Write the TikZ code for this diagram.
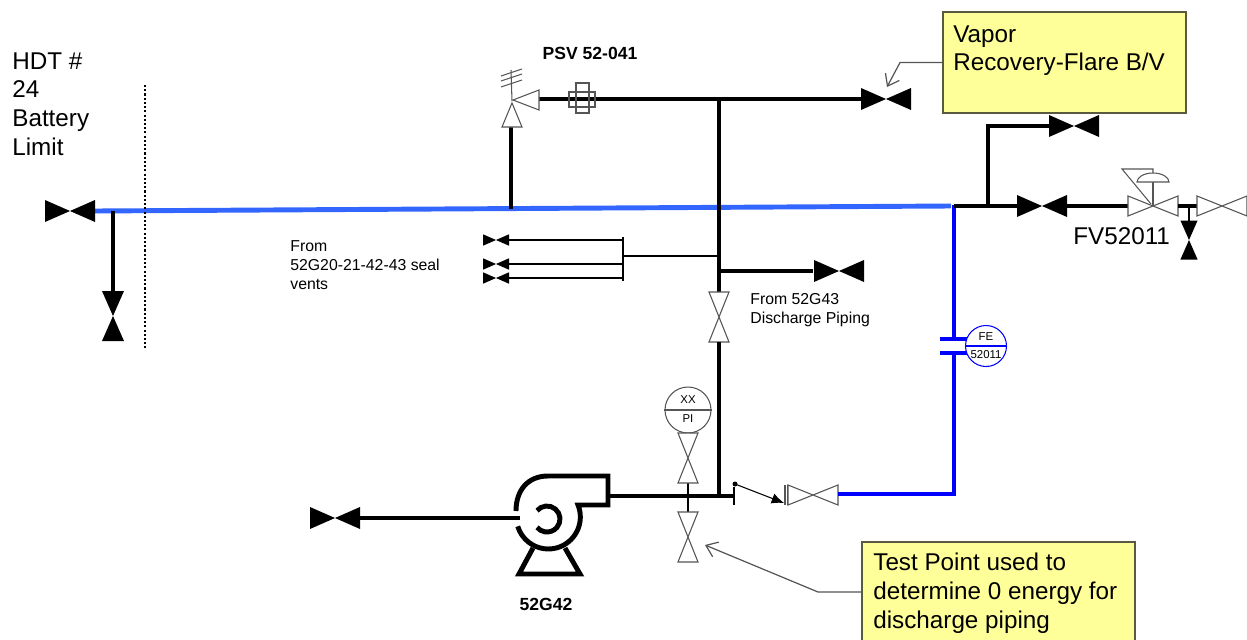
\documentclass[tikz,border=0pt]{standalone}
\usepackage{fontspec}
\setmainfont{Liberation Sans}
\usetikzlibrary{arrows.meta}

\definecolor{flowblue}{HTML}{3366FF}
\definecolor{feblue}{HTML}{0000FF}
\definecolor{notefill}{HTML}{FFFF99}
\definecolor{noteedge}{HTML}{5A5A40}
\definecolor{symgray}{HTML}{555555}

\newcommand{\bigtext}{\fontsize{13.8}{16.4}\selectfont}
\newcommand{\midtext}{\fontsize{9}{11}\selectfont}
\newcommand{\tinytext}{\fontsize{6.5}{7}\selectfont}
\newcommand{\tagtext}{\bfseries\fontsize{10}{12}\selectfont}

\tikzset{
  pipe/.style={line width=2.8pt},
  flow/.style={line width=2.8pt,draw=flowblue},
  fe/.style={line width=2.4pt,draw=feblue},
  tube/.style={line width=0.6pt},
  symbol/.style={draw=symgray,line width=0.6pt},
  bubble/.style={circle,draw=#1,fill=white,line width=0.6pt,inner sep=0pt},
  callout/.style={draw=symgray,line width=0.7pt,-{Straight Barb[length=6pt,width=9pt]}},
  notebox/.style={draw=noteedge,fill=notefill,line width=0.8pt,inner sep=0pt},
  txt/.style={inner sep=0pt,align=left,anchor=north west},
  pics/valve/.style={code={\fill (-25,-11) -- (-25,11) -- (25,-11) -- (25,11) -- cycle;}},
  pics/openvalve/.style={code={\draw[symbol,fill=white] (-25,-10) -- (-25,10) -- (25,-10) -- (25,10) -- cycle;}},
}

\begin{document}
\begin{tikzpicture}[x=0.02cm,y=-0.02cm]
  \useasboundingbox (0,0) rectangle (1247,639);

  % battery limit and main flow line
  \coordinate (bl) at (95,211);
  \coordinate (blEnd) at (951,206);
  \coordinate (drainTop) at (113,211);
  \coordinate (drainBot) at (113,292);
  \draw[flow] (bl) -- (blEnd);
  \pic at (70,211) {valve};
  \draw[pipe] (drainTop) -- (drainBot);
  \pic[rotate=90] at (113,316) {valve};
  \draw[tube,dash pattern=on 1.2pt off 1.2pt] (145,85) -- (145,348);

  % PSV
  \coordinate (psvBase) at (511,208.6);
  \coordinate (psvIn) at (511,127);
  \coordinate (psvOut) at (539,99);
  \coordinate (hdrTee) at (719,99);
  \coordinate (hdrEnd) at (861,99);
  \draw[pipe] (psvBase) -- (psvIn);
  \draw[pipe] (psvOut) -- (hdrEnd);
  \draw[symbol,fill=white] (502,127) -- (522,127) -- (512,103) -- cycle;
  \draw[symbol,fill=white] (539,90) -- (539,110) -- (513,100) -- cycle;
  \draw[symbol] (512,101) -- (511,70);
  \draw[symbol] (501,76) -- (522,69) (501,81) -- (522,74) (501,87) -- (522,80);
  \draw[symbol] (569,92) rectangle (595,107) (576,83) rectangle (589,113);
  \pic at (886,99) {valve};

  % riser to pump discharge
  \coordinate (riserTop) at (719,293);
  \coordinate (riserLow) at (719,342);
  \coordinate (riserBot) at (719,497);
  \draw[pipe] (hdrTee) -- (riserTop);
  \pic[rotate=90] at (719,317) {openvalve};
  \draw[pipe] (riserLow) -- (riserBot);
  \coordinate (branchTee) at (719,271);
  \coordinate (branchEnd) at (813,271);
  \draw[pipe] (branchTee) -- (branchEnd);
  \pic at (839,271) {valve};

  % seal vents
  \coordinate (sealBus) at (623,256);
  \coordinate (sealTee) at (719,256);
  \foreach \y [count=\i] in {240,264,278} {
    \coordinate (seal\i) at (509,\y);
    \coordinate (sealBus\i) at (623,\y);
    \pic[scale=0.52] at (496,\y) {valve};
    \draw[tube] (seal\i) -- (sealBus\i);
  }
  \draw[tube] (623,237) -- (623,281);
  \draw[tube] (sealBus) -- (sealTee);

  % pump 52G42
  \coordinate (pumpC) at (548,518);
  \coordinate (suctionIn) at (360,518);
  \coordinate (pumpIn) at (520,518);
  \coordinate (pumpOut) at (608,496);
  \coordinate (flangeL) at (734,496);
  \pic at (335,518) {valve};
  \draw[pipe] (suctionIn) -- (pumpIn);
  \draw[pipe] (516,511) .. controls (516,490) and (528,476) .. (548,476) -- (608,476) -- (608,505) -- (578,505)
    arc[start angle=-22,end angle=163,radius=32];
  \draw[pipe] (547,519) ++(220:13) arc[start angle=220,end angle=500,radius=13];
  \draw[pipe] (533,548) -- (519,574) -- (580,574) -- (565,548);
  \draw[pipe] (pumpOut) -- (flangeL);

  % pressure gauge and test point
  \node[bubble=symgray,minimum size=0.92cm] (piBubble) at (688,410) {};
  \draw[symbol] (piBubble.west) -- (piBubble.east);
  \node[font=\tinytext,inner sep=0pt] (piTop) at (688,400) {XX};
  \node[font=\tinytext,inner sep=0pt] (piBot) at (688,419) {PI};
  \draw[tube] (688,483) -- (688,512);
  \pic[rotate=90] at (688,458) {openvalve};
  \pic[rotate=90] at (688,537) {openvalve};

  % check valve and return
  \coordinate (flapPivot) at (735,484);
  \coordinate (flapEnd) at (784,503);
  \draw[tube] (734,487) -- (734,505);
  \fill (flapPivot) circle[radius=2.5];
  \draw[tube,-{Latex[length=7pt,width=6pt]}] (flapPivot) -- (flapEnd);
  \draw[symbol] (785,485) -- (785,505) (788,485) -- (788,505);
  \pic at (813,495) {openvalve};
  \coordinate (retStart) at (838,494);
  \coordinate (retCorner) at (954,494);
  \coordinate (feLow) at (954,353);
  \coordinate (feHigh) at (954,339);
  \coordinate (retTop) at (954,205);
  \draw[fe] (retStart) -- (retCorner) -- (feLow);
  \draw[fe] (feHigh) -- (retTop);
  \draw[fe] (940,339) -- (967,339) (940,353) -- (967,353);
  \node[bubble=feblue,minimum size=0.82cm] (feBubble) at (986,346) {};
  \draw[feblue,line width=0.6pt] (feBubble.west) -- (feBubble.east);
  \node[font=\tinytext,inner sep=0pt] (feTop) at (986,337) {FE};
  \node[font=\tinytext,inner sep=0pt] (feBot) at (986,355) {52011};

  % FV52011 side
  \coordinate (rStart) at (954,206);
  \coordinate (rTee) at (988,206);
  \coordinate (rUp) at (988,126);
  \coordinate (rUpEnd) at (1049,126);
  \coordinate (rValve) at (1017,206);
  \draw[pipe] (rStart) -- (rValve);
  \draw[pipe] (rTee) -- (rUp) -- (rUpEnd);
  \pic at (1074,126) {valve};
  \pic at (1042,206) {valve};
  \draw[pipe] (1067,206) -- (1128,206);
  \pic at (1153,206) {openvalve};
  \draw[symbol] (1153,206) -- (1153,182);
  \draw[symbol,fill=white] (1137,182) arc[start angle=180,end angle=360,x radius=16,y radius=9] -- cycle;
  \draw[symbol] (1151,204) -- (1122,169) -- (1153,169) -- (1153,173);
  \draw[pipe] (1178,206) -- (1197,206);
  \pic at (1222,206) {openvalve};
  \draw[tube] (1189,206) -- (1189,221);
  \pic[rotate=90,scale=0.78] at (1189,240) {valve};

  % texts
  \node[txt,font=\bigtext] (hdtText) at (12,52) {HDT \#\\24\\Battery\\Limit};
  \node[font=\tagtext,inner sep=0pt] (psvText) at (590,53) {PSV 52-041};
  \node[txt,font=\midtext] (sealText) at (290,240) {From\\52G20-21-42-43 seal\\vents};
  \node[txt,font=\midtext] (dischText) at (750,293) {From 52G43\\Discharge Piping};
  \node[txt,font=\bigtext] (fvText) at (1073,227) {FV52011};
  \node[font=\tagtext,inner sep=0pt] (pumpText) at (546,604) {52G42};

  % callouts
  \node[notebox,minimum width=4.86cm,minimum height=2.02cm] (vaporNote) at (1064.5,62.5) {};
  \node[txt,font=\bigtext] (vaporText) at (953,25) {Vapor\\Recovery-Flare B/V};
  \coordinate (vaporBend) at (900,62.5);
  \coordinate (vaporTip) at (887,87);
  \draw[callout] (vaporNote.west) -- (vaporBend) -- (vaporTip);
  \node[notebox,minimum width=5.46cm,minimum height=2cm] (testNote) at (998.5,592) {};
  \node[txt,font=\bigtext] (testText) at (873,553) {Test Point used to\\determine 0 energy for\\discharge piping};
  \coordinate (testBend) at (818,592);
  \coordinate (testTip) at (705,545);
  \draw[callout] (testNote.west) -- (testBend) -- (testTip);
\end{tikzpicture}
\end{document}
